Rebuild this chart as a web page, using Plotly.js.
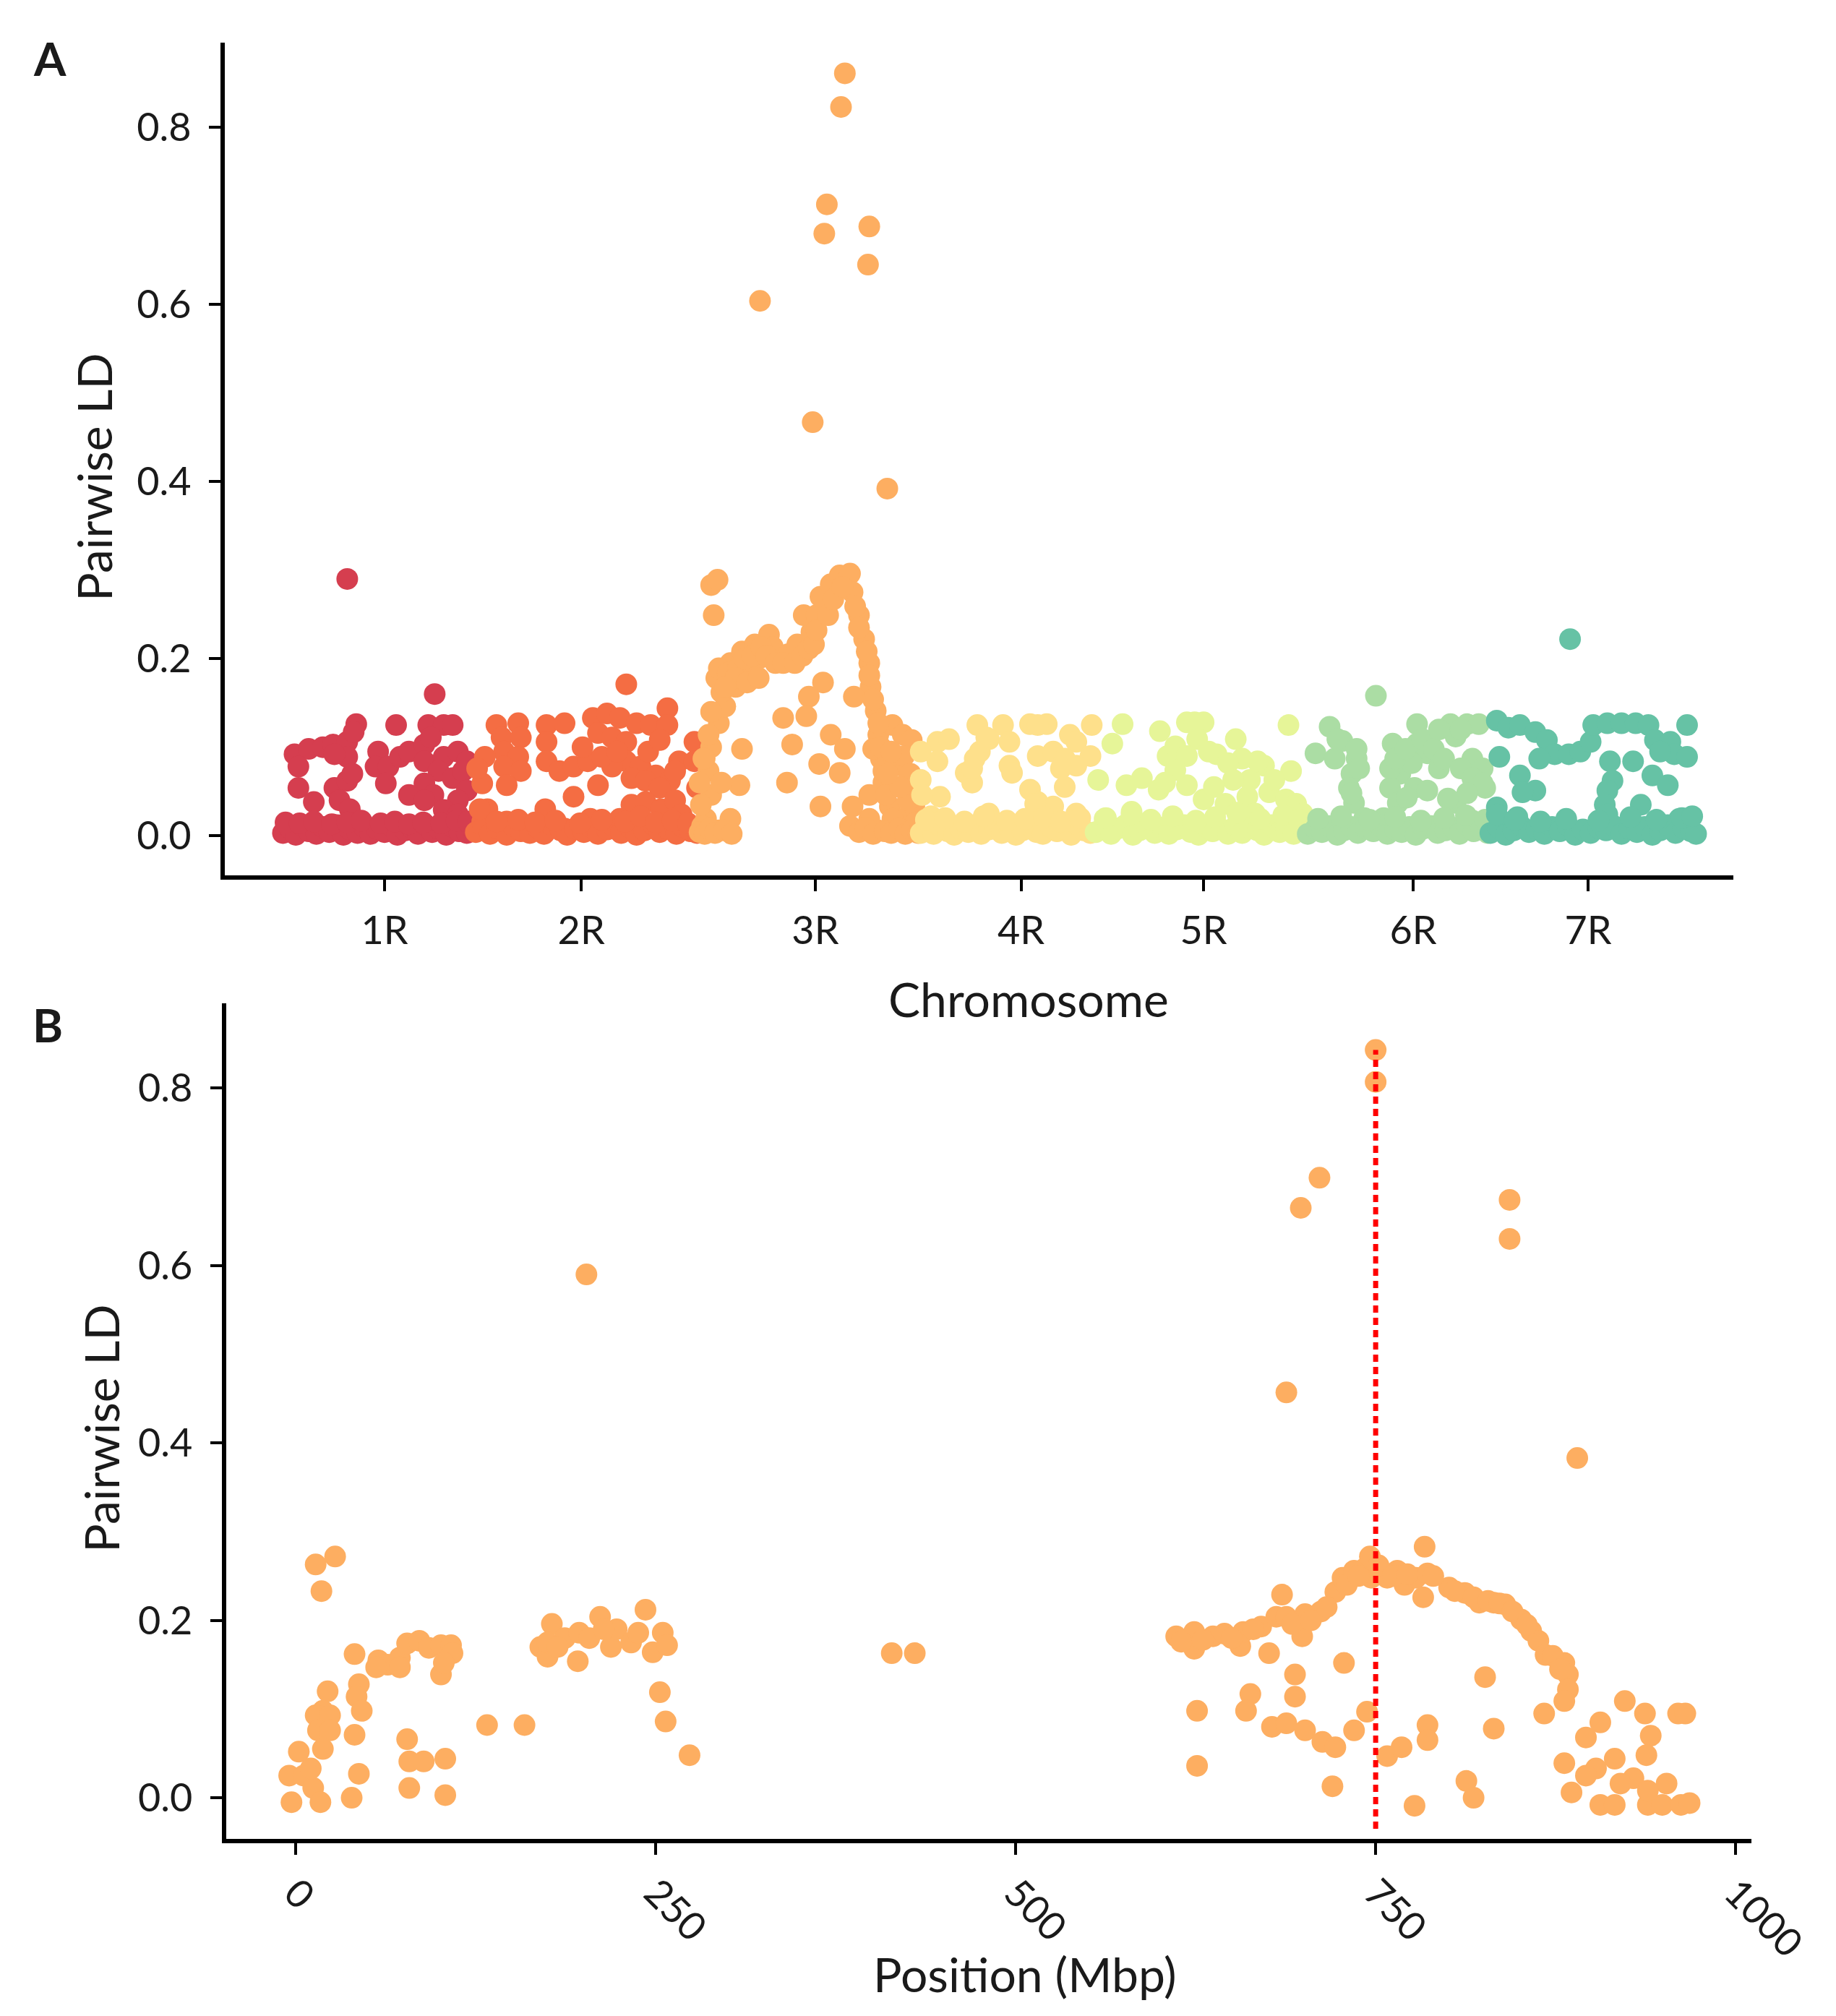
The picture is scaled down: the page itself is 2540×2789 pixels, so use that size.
<!DOCTYPE html>
<html>
<head>
<meta charset="utf-8">
<script src="https://cdn.plot.ly/plotly-3.0.1.min.js"></script>
<style>html,body{margin:0;padding:0;background:#fff}</style>
</head>
<body>
<div id="ld-plot" style="width:2540px;height:2789px"></div>
<script>
/* Panel A: pairwise LD along the genome (marker index within chromosome) */
var chromNames = ['1R', '2R', '3R', '4R', '5R', '6R', '7R'];
var chromColors = ['#d53e4f', '#f46d43', '#fdae61', '#fee08b', '#e6f598', '#abdda4', '#66c2a5'];
var chromSizes = [150, 175, 172, 135, 165, 143, 162];   // index span of each chromosome
var chromLabelPos = [81, 84, 91, 79, 86, 84, 77];      // label position (index) inside each chromosome

var pos1R = [52,120, 59,90,115,127,134,
  11,22,33,41,52,57,52,42,14,76,74,84,93,100,112,117,112,127,138,145,123,134,142,145,112,119,138,127,138,82,100,14,26,42,52,56,46,54,112,
  2,7,12,17,22,28,33,38,44,49,54,60,65,70,75,81,86,91,97,102,107,113,118,123,129,134,139,145,149,
  4,15,26,40,52,63,78,89,100,111,125,137,146];
var ld1R = [0.290,0.160, 0.126,0.125,0.125,0.125,0.125,
  0.092,0.098,0.100,0.103,0.106,0.117,0.089,0.092,0.078,0.095,0.078,0.078,0.089,0.095,0.103,0.111,0.084,0.089,0.095,0.084,0.073,0.065,0.073,0.051,0.059,0.046,0.040,0.029,0.024,0.059,0.046,0.054,0.038,0.054,0.062,0.070,0.040,0.030,0.040,
  0.003,0.009,0.001,0.011,0.005,0.002,0.010,0.004,0.012,0.001,0.007,0.003,0.010,0.002,0.008,0.004,0.011,0.001,0.006,0.009,0.002,0.012,0.004,0.008,0.001,0.010,0.005,0.003,0.009,
  0.015,0.014,0.016,0.013,0.015,0.017,0.014,0.016,0.013,0.015,0.014,0.017,0.016];

var pos2R = [119,
  18,35,22,37,24,35,24,37,26,9,7,3,
  57,71,57,57,67,78,89,85,93,104,114,97,108,119,127,138,151,151,119,130,142,153,160,172,172,174,108,100,112,97,78,136,145,123,134,145,157,
  56,91,123,134,146,157,162,11,7,26,37,114,71,
  2,8,13,19,26,31,37,44,50,55,61,68,73,79,86,91,97,104,109,115,122,127,133,140,145,151,158,163,169,174,
  5,18,35,48,64,83,100,118,130,142,155,167];
var ld2R = [0.171,
  0.125,0.127,0.111,0.111,0.095,0.089,0.078,0.073,0.057,0.089,0.059,0.076,
  0.125,0.127,0.106,0.084,0.073,0.078,0.084,0.100,0.133,0.138,0.133,0.116,0.111,0.106,0.127,0.125,0.144,0.125,0.084,0.078,0.068,0.062,0.084,0.106,0.084,0.054,0.078,0.089,0.095,0.057,0.044,0.095,0.108,0.065,0.062,0.054,0.073,
  0.030,0.019,0.035,0.038,0.030,0.040,0.024,0.030,0.016,0.016,0.010,0.019,0.008,
  0.004,0.010,0.002,0.008,0.001,0.011,0.005,0.003,0.009,0.002,0.012,0.006,0.001,0.008,0.004,0.010,0.002,0.007,0.011,0.003,0.009,0.001,0.006,0.012,0.004,0.008,0.002,0.010,0.005,0.003,
  0.030,0.016,0.018,0.015,0.017,0.014,0.018,0.016,0.022,0.015,0.017,0.014];

var pos3R = [114,111,100,98,133,132,48,89,147,
  10,15,12,
  6,10,8,10,16,21,18,19,25,34,44,55,58,47,38,29,70,77,88,82,92,95,103,110,118,120,125,129,133,134,138,140,142,144,149,155,121,151,159,166,136,133,
  97,86,66,84,73,103,114,94,110,69,95,120,118,34,32,25,18,3,1,16,162,159,168,140,133,
  14,16,23,31,36,42,49,53,60,66,75,81,86,90,92,101,105,112,122,125,131,133,136,140,142,144,146,151,29,21,38,47,10,8,5,2,4,
  155,160,165,170,163,157,169,150,147,
  1,5,9,13,20,26,125,130,136,145,150,156,161,166,171];
var ld3R = [0.861,0.823,0.713,0.680,0.688,0.645,0.604,0.467,0.392,
  0.283,0.289,0.249,
  0.019,0.046,0.073,0.100,0.127,0.146,0.162,0.178,0.195,0.208,0.216,0.227,0.213,0.200,0.184,0.168,0.205,0.216,0.230,0.249,0.249,0.270,0.284,0.294,0.296,0.275,0.249,0.222,0.195,0.168,0.141,0.114,0.087,0.060,0.033,0.011,0.157,0.125,0.114,0.108,0.098,0.046,
  0.173,0.157,0.133,0.135,0.103,0.114,0.098,0.081,0.071,0.060,0.033,0.033,0.011,0.098,0.057,0.019,0.060,0.011,0.060,0.006,0.060,0.019,0.033,0.006,0.019,
  0.178,0.189,0.184,0.189,0.200,0.203,0.213,0.203,0.195,0.195,0.195,0.203,0.211,0.216,0.232,0.249,0.267,0.281,0.259,0.235,0.208,0.181,0.154,0.127,0.100,0.073,0.046,0.019,0.178,0.168,0.173,0.178,0.140,0.114,0.087,0.035,0.087,
  0.080,0.090,0.070,0.050,0.040,0.055,0.015,0.095,0.070,
  0.004,0.002,0.008,0.003,0.006,0.002,0.004,0.009,0.002,0.005,0.003,0.008,0.002,0.006,0.003];

var pos4R = [45,65,86,99,92,134,
  14,23,54,70,117,122,
  1,14,47,43,92,104,113,133,122,70,110,
  1,36,41,72,86,113,16,2,92,104,54,122,9,
  41,52,90,
  1,6,11,16,22,27,32,38,43,48,54,59,64,70,75,80,86,91,96,102,107,112,118,123,128,133,
  5,20,35,50,68,82,97,110,125];
var ld4R = [0.125,0.125,0.126,0.126,0.125,0.125,
  0.106,0.109,0.109,0.106,0.114,0.106,
  0.095,0.084,0.095,0.087,0.090,0.095,0.087,0.090,0.079,0.079,0.076,
  0.063,0.071,0.060,0.071,0.052,0.055,0.044,0.046,0.038,0.033,0.025,0.025,0.022,
  0.076,0.111,0.036,
  0.003,0.009,0.002,0.011,0.005,0.001,0.008,0.004,0.012,0.002,0.007,0.010,0.003,0.009,0.001,0.006,0.011,0.004,0.002,0.010,0.005,0.008,0.001,0.012,0.006,0.003,
  0.018,0.020,0.016,0.022,0.017,0.019,0.021,0.016,0.020];

var pos5R = [23,73,86,79,152,52,111,15,81,58,96,116,133,154,4,26,38,51,73,122,137,150,158,120,86,103,126,30,9,163,
  64,73,64,56,90,105,128,141,109,94,
  2,8,14,19,25,31,36,42,48,54,59,65,71,76,82,88,93,99,105,111,116,122,128,133,139,145,150,156,162,
  10,30,45,62,80,95,112,130,148,160];
var ld5R = [0.126,0.128,0.128,0.128,0.125,0.118,0.109,0.104,0.109,0.090,0.092,0.087,0.079,0.073,0.063,0.057,0.065,0.052,0.057,0.063,0.049,0.041,0.036,0.044,0.041,0.036,0.025,0.027,0.019,0.025,
  0.101,0.090,0.074,0.060,0.095,0.082,0.084,0.063,0.063,0.055,
  0.004,0.010,0.002,0.008,0.012,0.001,0.006,0.011,0.003,0.009,0.002,0.007,0.012,0.004,0.001,0.010,0.005,0.008,0.002,0.011,0.003,0.009,0.006,0.001,0.012,0.004,0.008,0.002,0.010,
  0.020,0.024,0.018,0.022,0.017,0.021,0.026,0.019,0.023,0.018];

var pos6R = [55,19,87,113,126,135,117,68,29,8,23,40,36,87,95,104,130,138,74,83,66,85,34,38,95,117,140,72,79,46,61,130,
  25,40,42,36,66,70,78,91,100,108,121,130,138,126,111,104,121,
  2,8,13,19,25,30,36,41,47,53,58,64,70,75,81,86,92,98,103,109,115,120,126,131,137,142,
  10,28,50,70,90,108,125,140];
var ld6R = [0.158,0.123,0.126,0.126,0.126,0.126,0.112,0.104,0.107,0.093,0.087,0.087,0.070,0.104,0.093,0.076,0.087,0.076,0.070,0.082,0.054,0.054,0.054,0.037,0.051,0.037,0.054,0.037,0.043,0.020,0.020,0.017,
  0.109,0.098,0.076,0.048,0.076,0.087,0.098,0.109,0.098,0.087,0.076,0.065,0.059,0.048,0.042,0.120,0.120,
  0.002,0.008,0.004,0.011,0.001,0.006,0.010,0.003,0.009,0.005,0.012,0.002,0.007,0.004,0.010,0.001,0.008,0.011,0.003,0.006,0.009,0.002,0.012,0.005,0.008,0.003,
  0.019,0.022,0.018,0.021,0.017,0.020,0.023,0.018];

var pos7R = [63,
  6,15,24,36,45,51,62,71,79,81,92,103,114,124,129,141,144,154,154,133,
  8,39,24,36,26,94,112,96,92,90,127,139,118,6,
  148,22,92,
  1,7,13,19,25,31,37,43,49,55,61,67,73,79,85,91,97,103,109,115,121,127,133,139,145,151,157,161,
  6,20,40,60,85,110,130,150,158];
var ld7R = [0.222,
  0.130,0.122,0.125,0.117,0.108,0.092,0.092,0.095,0.106,0.125,0.127,0.127,0.127,0.125,0.108,0.106,0.092,0.089,0.125,0.095,
  0.089,0.087,0.068,0.051,0.049,0.084,0.084,0.062,0.051,0.035,0.068,0.057,0.035,0.032,
  0.019,0.021,0.024,
  0.003,0.009,0.001,0.006,0.011,0.004,0.008,0.002,0.010,0.005,0.012,0.001,0.007,0.003,0.009,0.006,0.011,0.002,0.008,0.004,0.010,0.001,0.006,0.012,0.003,0.009,0.005,0.002,
  0.024,0.018,0.016,0.019,0.017,0.021,0.018,0.020,0.022];

/* Panel B: LD on 3R against physical position (Mbp) */
var mbp3R = [14,27.5,18,
  41,57.5,64,72.5,77.5,86,92.6,101,108,109,101,103,56,72.5,
  44,42.4,46,41,22.3,19,14,24,15.6,24,19,2.3,-4.4,5.6,12.3,-2.8,17.3,10.6,44,39,
  77.5,79,89,104,79,104,
  133,159,
  170,175,178,187,196,197,204,211.5,219,223,233,243,248,255,258,214,175,182,238,253,257,273.6,
  202,414,430,
  611.5,624,624,637,645,656,658,670.5,676,681,688,699,701,712,685,722,727,735,742,746,747,758,765,770,778,783,784,786,801,812,822,832,840,851,858,863,868,881,883.5,883.5,881,867,826,
  626,626,663,660,694,694,678,688,701,713,722,720,728,735,744,758,768,786,786,777,813,818,832,881,886,896,906,903,916,923,937,941,938,960,965,929,906,916,939,949,962,968,952,939,920,896,
  615,630,650,665,692,705,716,730,738,752,762,772,790,805,818,828,836,845,855,873,878,
  750,750,711,698,843,843,688,890];
var ldMbp3R = [0.263,0.272,0.233,
  0.162,0.155,0.150,0.158,0.174,0.177,0.169,0.172,0.172,0.163,0.139,0.152,0.147,0.147,
  0.128,0.114,0.098,0.071,0.120,0.098,0.093,0.093,0.076,0.076,0.055,0.052,0.025,0.025,0.011,-0.005,-0.005,0.033,0.027,0.000,
  0.066,0.041,0.041,0.044,0.011,0.003,
  0.082,0.082,
  0.170,0.159,0.196,0.180,0.154,0.186,0.180,0.204,0.170,0.190,0.175,0.212,0.164,0.186,0.172,0.190,0.175,0.170,0.186,0.119,0.086,0.048,
  0.590,0.163,0.163,
  0.182,0.168,0.187,0.182,0.185,0.171,0.187,0.193,0.163,0.204,0.204,0.182,0.207,0.210,0.229,0.232,0.248,0.256,0.258,0.272,0.248,0.248,0.256,0.240,0.248,0.226,0.283,0.253,0.237,0.231,0.220,0.220,0.218,0.201,0.188,0.177,0.161,0.152,0.139,0.122,0.109,0.095,0.136,
  0.098,0.036,0.117,0.098,0.139,0.114,0.080,0.084,0.076,0.063,0.057,0.013,0.152,0.076,0.097,0.047,0.057,0.082,0.065,-0.009,0.019,0.000,0.078,0.039,0.006,0.068,0.085,0.033,0.044,0.109,0.095,0.070,0.048,0.095,0.095,0.022,-0.008,-0.008,-0.008,-0.008,-0.008,-0.006,0.016,0.008,0.016,0.025,
  0.176,0.178,0.180,0.190,0.196,0.200,0.215,0.240,0.250,0.262,0.250,0.252,0.250,0.233,0.226,0.222,0.219,0.210,0.195,0.160,0.145,
  0.843,0.807,0.699,0.665,0.674,0.630,0.457,0.383];
var focalMbp = 750; // marker highlighted with the dotted line

var chromPos = [pos1R, pos2R, pos3R, pos4R, pos5R, pos6R, pos7R];
var chromLD = [ld1R, ld2R, ld3R, ld4R, ld5R, ld6R, ld7R];

var fontFam = 'Lato, "DejaVu Sans", sans-serif';
var textCol = '#1a1a1a';
var markerSize = 30;

var traces = [];
var tickVals = [];
var offset = 0;
for (var i = 0; i < chromNames.length; i++) {
    var xs = chromPos[i].map(function (p) { return p + offset; });
    traces.push({
        x: xs,
        y: chromLD[i],
        mode: 'markers',
        type: 'scatter',
        name: chromNames[i],
        marker: {color: chromColors[i], size: markerSize, line: {width: 0}},
        xaxis: 'x', yaxis: 'y',
        showlegend: false,
        hoverinfo: 'skip'
    });
    tickVals.push(offset + chromLabelPos[i]);
    offset += chromSizes[i];
}

traces.push({
    x: mbp3R,
    y: ldMbp3R,
    mode: 'markers',
    type: 'scatter',
    name: '3R',
    marker: {color: chromColors[2], size: markerSize, line: {width: 0}},
    xaxis: 'x2', yaxis: 'y2',
    showlegend: false,
    hoverinfo: 'skip'
});

var focalTop = Math.max.apply(null, ldMbp3R);

function axisStyle(extra) {
    var a = {
        showline: true, linecolor: '#000', linewidth: 6,
        ticks: 'outside', ticklen: 16, tickwidth: 4, tickcolor: '#000',
        showgrid: false, zeroline: false, mirror: false,
        tickfont: {family: fontFam, size: 54, color: textCol},
        automargin: false
    };
    for (var k in extra) a[k] = extra[k];
    return a;
}

function label(text, x, y, size, angle) {
    return {text: text, xref: 'paper', yref: 'paper', x: x, y: y,
            xanchor: 'center', yanchor: 'middle', showarrow: false, textangle: angle || 0,
            font: {family: fontFam, size: size, color: textCol}};
}

var layout = {
    width: 2540, height: 2789,
    margin: {l: 0, r: 0, t: 0, b: 0},
    paper_bgcolor: '#fff', plot_bgcolor: '#fff',
    font: {family: fontFam, color: textCol},
    xaxis: axisStyle({
        domain: [0.1226, 0.9441], anchor: 'y',
        range: [-43, 1130],
        tickmode: 'array', tickvals: tickVals, ticktext: chromNames,
        ticklabelstandoff: 8
    }),
    yaxis: axisStyle({
        domain: [0.5657, 0.9790], anchor: 'x',
        range: [-0.045, 0.896],
        tickvals: [0, 0.2, 0.4, 0.6, 0.8], tickformat: '.1f',
        ticklabelstandoff: 14
    }),
    xaxis2: axisStyle({
        domain: [0.1233, 0.9540], anchor: 'y2',
        range: [-48, 1011],
        tickvals: [0, 250, 500, 750, 1000],
        tickangle: 45,
        ticklabelstandoff: 0
    }),
    yaxis2: axisStyle({
        domain: [0.0880, 0.5025], anchor: 'x2',
        range: [-0.046, 0.896],
        tickvals: [0, 0.2, 0.4, 0.6, 0.8], tickformat: '.1f',
        ticklabelstandoff: 14
    }),
    shapes: [{
        type: 'line', xref: 'x2', yref: 'y2',
        x0: focalMbp, x1: focalMbp, y0: -0.035, y1: focalTop,
        line: {color: '#ff0000', width: 7, dash: '10px,7px'},
        layer: 'above'
    }],
    annotations: [
        label('<b>A</b>', 0.0273, 0.9713, 64),
        label('<b>B</b>', 0.0258, 0.4917, 64),
        label('Chromosome', 0.5603, 0.5045, 66),
        label('Position (Mbp)', 0.5582, 0.0211, 66),
        label('Pairwise LD', 0.0511, 0.7634, 66, -90),
        label('Pairwise LD', 0.0546, 0.2915, 66, -90)
    ]
};

Plotly.newPlot('ld-plot', traces, layout, {displayModeBar: false, staticPlot: true});
</script>
</body>
</html>
